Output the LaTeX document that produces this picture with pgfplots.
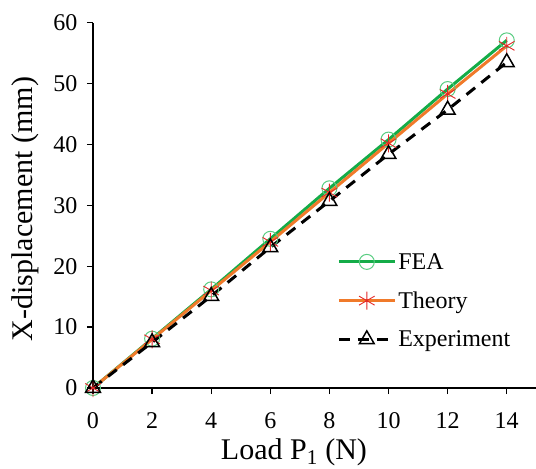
\documentclass[border=0pt]{standalone}
\usepackage{fontspec}
\setmainfont{Liberation Serif}
\usepackage{pgfplots}
\pgfplotsset{compat=1.18}
\definecolor{feagreen}{RGB}{20,172,72}
\definecolor{feamark}{RGB}{90,205,130}
\definecolor{thorange}{RGB}{240,122,42}
\definecolor{thred}{RGB}{228,40,40}
\begin{document}
\begin{tikzpicture}
\begin{axis}[
  name=ax,
  scale only axis,
  width=443.3pt, height=365.3pt,
  xmin=0, xmax=15, ymin=0, ymax=60,
  xtick={0,2,...,14}, ytick={0,10,...,60},
  axis x line*=bottom, axis y line*=left,
  axis line style={line width=1.6pt, black},
  tick align=outside,
  major tick length=6pt,
  tick style={line width=1.4pt, black},
  clip=false,
  /pgf/number format/assume math mode=true,
  ticklabel style={font=\fontsize{24}{28}\selectfont},
  xticklabel style={yshift=-15pt},
  yticklabel style={xshift=-6pt},
  xlabel={Load P\textsubscript{1} (N)},
  ylabel={X-displacement (mm)},
  label style={font=\fontsize{30}{34}\selectfont},
  xlabel style={at={([yshift=-71.5pt]axis cs:6.8,0)}, anchor=base},
  ylabel style={at={([xshift=-60pt]axis cs:0,29.4)}, anchor=base},
  legend cell align=left,
  legend style={draw=none, fill=none, at={(axis cs:8.26,22.5)}, anchor=north west,
    font=\fontsize{24}{28}\selectfont, row sep=17pt, inner sep=0pt},
  legend image code/.code={\draw[mark repeat=2,mark phase=2] plot coordinates {(0pt,0pt) (28pt,0pt) (56pt,0pt)};},
]
\addplot[feagreen, line width=3pt, mark=o, mark size=7.5pt,
  mark options={draw=feamark, line width=1pt, solid}]
  coordinates {(0,0) (2,8.1) (4,16.2) (6,24.5) (8,32.8) (10,40.8) (12,49.1) (14,57.1)};
\addlegendentry{FEA}
\addplot[thorange, line width=3pt, mark=asterisk, mark size=9pt,
  mark options={draw=thred, line width=0.9pt, solid}]
  coordinates {(0,0) (2,8.0) (4,16.0) (6,24.0) (8,32.1) (10,40.2) (12,48.3) (14,56.2)};
\addlegendentry{Theory}
\addplot[black, line width=3pt, dash pattern=on 11pt off 8pt, mark=triangle, mark size=8.5pt,
  mark options={draw=black, line width=1.5pt, solid}]
  coordinates {(0,0) (2,7.5) (4,15.1) (6,23.1) (8,30.7) (10,38.4) (12,45.7) (14,53.5)};
\addlegendentry{Experiment}
\end{axis}
\pgfresetboundingbox
\path ([shift={(-93pt,-81pt)}]ax.south west) rectangle ([shift={(443pt,388pt)}]ax.south west);
\end{tikzpicture}
\end{document}
